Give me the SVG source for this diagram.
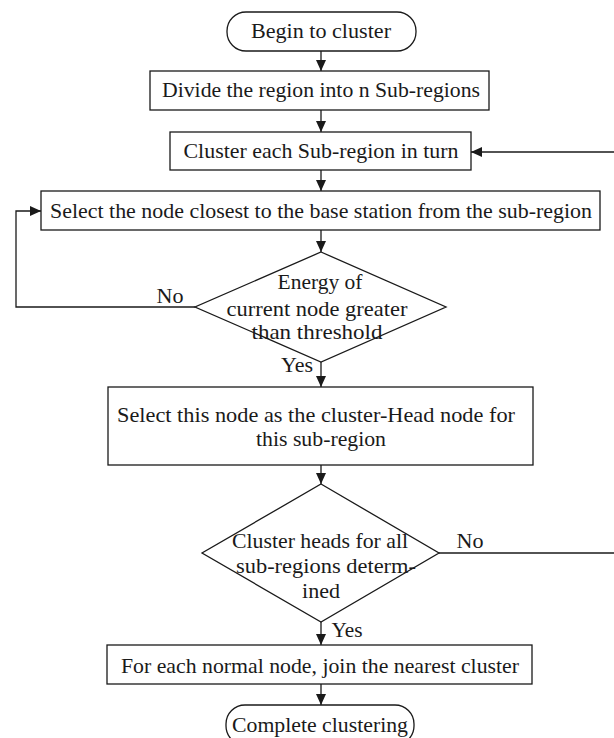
<svg xmlns="http://www.w3.org/2000/svg" width="614" height="738" viewBox="0 0 614 738">
<defs>
<marker id="ah" markerUnits="userSpaceOnUse" markerWidth="11" markerHeight="10" refX="11" refY="5" orient="auto">
<path d="M0,0 L11,5 L0,10 z" fill="#1a1a1a"/>
</marker>
<style>
.b{fill:#fff;stroke:#1a1a1a;stroke-width:1.3}
.c{fill:none;stroke:#1a1a1a;stroke-width:1.3}
.t{font-family:"Liberation Serif","Times New Roman",serif;font-size:21px;fill:#1a1a1a;text-anchor:middle}
</style>
</defs>
<rect width="614" height="738" fill="#fff"/>
<g id="connectors">
<line class="c" x1="321" y1="51" x2="321" y2="71" marker-end="url(#ah)"/>
<line class="c" x1="321" y1="110" x2="321" y2="132" marker-end="url(#ah)"/>
<line class="c" x1="321" y1="170" x2="321" y2="191" marker-end="url(#ah)"/>
<line class="c" x1="321" y1="230" x2="321" y2="252" marker-end="url(#ah)"/>
<line class="c" x1="321" y1="362" x2="321" y2="387" marker-end="url(#ah)"/>
<line class="c" x1="321" y1="465" x2="321" y2="484" marker-end="url(#ah)"/>
<line class="c" x1="321" y1="622" x2="321" y2="645" marker-end="url(#ah)"/>
<line class="c" x1="321" y1="684" x2="321" y2="705" marker-end="url(#ah)"/>
<polyline class="c" points="195,307 16,307 16,211 41,211" marker-end="url(#ah)"/>
<line class="c" x1="620" y1="152" x2="471" y2="152" marker-end="url(#ah)"/>
<line class="c" x1="439" y1="553" x2="620" y2="553"/>
<text class="t" x="170" y="303" textLength="27" lengthAdjust="spacingAndGlyphs">No</text>
<text class="t" x="297" y="372" textLength="32" lengthAdjust="spacingAndGlyphs">Yes</text>
<text class="t" x="470" y="548" textLength="27" lengthAdjust="spacingAndGlyphs">No</text>
<text class="t" x="347" y="637" textLength="31" lengthAdjust="spacingAndGlyphs">Yes</text>
</g>
<g id="begin">
<rect class="b" x="227" y="12" width="189" height="39" rx="19" ry="19"/>
<text class="t" x="321" y="38" textLength="140" lengthAdjust="spacingAndGlyphs">Begin to cluster</text>
</g>
<g id="divide">
<rect class="b" x="150" y="71" width="339" height="39"/>
<text class="t" x="321" y="97" textLength="318" lengthAdjust="spacingAndGlyphs">Divide the region into n Sub-regions</text>
</g>
<g id="cluster-each">
<rect class="b" x="170" y="132" width="301" height="38"/>
<text class="t" x="321" y="158" textLength="275" lengthAdjust="spacingAndGlyphs">Cluster each Sub-region in turn</text>
</g>
<g id="select-closest">
<rect class="b" x="41" y="191" width="559" height="39"/>
<text class="t" x="321" y="218" textLength="542" lengthAdjust="spacingAndGlyphs">Select the node closest to the base station from the sub-region</text>
</g>
<g id="energy-check">
<polygon class="b" points="321,252 446,307 321,362 195,307"/>
<text class="t" x="320" y="289" textLength="85" lengthAdjust="spacingAndGlyphs">Energy of</text>
<text class="t" x="317" y="316" textLength="181" lengthAdjust="spacingAndGlyphs">current node greater</text>
<text class="t" x="317" y="339" textLength="131" lengthAdjust="spacingAndGlyphs">than threshold</text>
</g>
<g id="select-head">
<rect class="b" x="108" y="387" width="425" height="78"/>
<text class="t" x="316" y="422" textLength="398" lengthAdjust="spacingAndGlyphs">Select this node as the cluster-Head node for</text>
<text class="t" x="321" y="446" textLength="130" lengthAdjust="spacingAndGlyphs">this sub-region</text>
</g>
<g id="heads-check">
<polygon class="b" points="321,484 439,553 321,622 202,553"/>
<text class="t" x="320" y="548" textLength="176" lengthAdjust="spacingAndGlyphs">Cluster heads for all</text>
<text class="t" x="326" y="573" textLength="180" lengthAdjust="spacingAndGlyphs">sub-regions determ-</text>
<text class="t" x="321" y="598" textLength="38" lengthAdjust="spacingAndGlyphs">ined</text>
</g>
<g id="join-cluster">
<rect class="b" x="107" y="645" width="425" height="39"/>
<text class="t" x="320" y="673" textLength="398" lengthAdjust="spacingAndGlyphs">For each normal node, join the nearest cluster</text>
</g>
<g id="complete">
<rect class="b" x="226" y="705" width="188" height="40" rx="19" ry="19"/>
<text class="t" x="320" y="732" textLength="176" lengthAdjust="spacingAndGlyphs">Complete clustering</text>
</g>
</svg>
